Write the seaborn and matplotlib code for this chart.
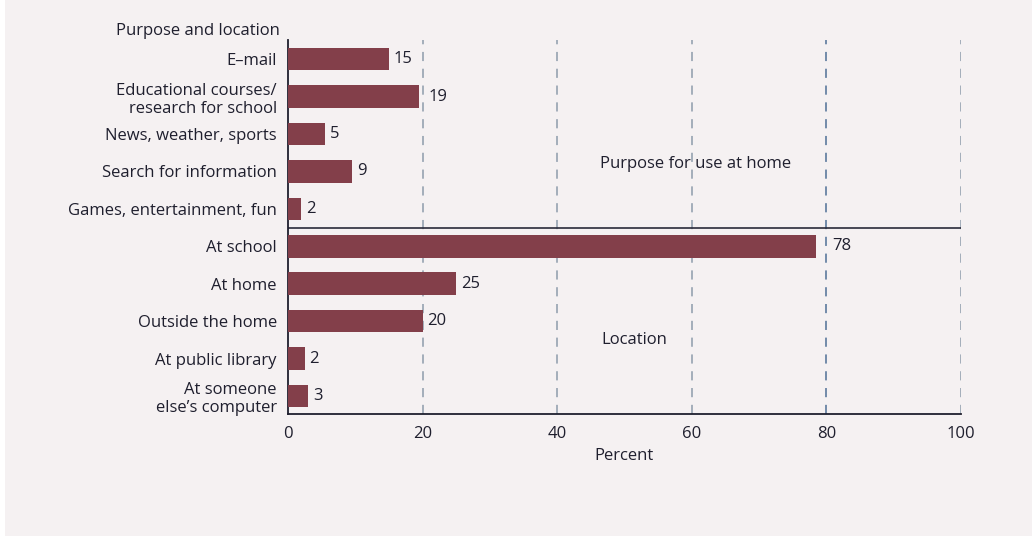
import pandas as pd
import matplotlib.pyplot as plt
import seaborn as sns

# Data
categories = [
    "E\u2013mail",
    "Educational courses/\nresearch for school",
    "News, weather, sports",
    "Search for information",
    "Games, entertainment, fun",
    "At school",
    "At home",
    "Outside the home",
    "At public library",
    "At someone\nelse\u2019s computer",
]
values = [15, 19.5, 5.5, 9.5, 2, 78.5, 25, 20, 2.5, 3]
value_labels = ["15", "19", "5", "9", "2", "78", "25", "20", "2", "3"]
x_ticks = [0, 20, 40, 60, 80, 100]

df = pd.DataFrame({"category": categories, "percent": values})

bg = "#f5f1f2"
bar_color = "#833f4a"
text_color = "#1f1f2e"

sns.set_theme(style="white")
plt.rcParams["font.family"] = ["Open Sans", "DejaVu Sans"]
plt.rcParams["text.color"] = text_color

fig = plt.figure(figsize=(10.32, 5.36), dpi=100)
fig.patch.set_facecolor("white")
# panel background
fig.add_artist(plt.Rectangle((5 / 1032, 0), 1, 1, transform=fig.transFigure,
                             facecolor=bg, edgecolor="none", zorder=-10))
ax = fig.add_axes([288 / 1032, 1 - 414 / 536, (961 - 288) / 1032, (414 - 40) / 536])
ax.set_facecolor(bg)

sns.barplot(data=df, x="percent", y="category", orient="h", color=bar_color,
            saturation=1, width=0.6, linewidth=0, ax=ax, zorder=3)

# dashed grid lines
for t in x_ticks[1:]:
    c = "#4f6f96" if t == 80 else "#8d9bab"
    ax.axvline(t, color=c, ls=(0, (6, 5)), lw=1.1, zorder=1)

# separator between purpose and location
ax.axhline(4.5, xmin=0, xmax=1, color="#2a2a3a", lw=1.2, zorder=2)

for i, (v, lab) in enumerate(zip(values, value_labels)):
    x = v + 0.7
    # keep the label clear of a nearby grid line
    for t in x_ticks[1:]:
        if v < t < v + 2.5:
            x = t + 0.9
    ax.text(x, i, lab, va="center", ha="left", fontsize=12, color=text_color, zorder=4)

ax.text(60.5, 2.8, "Purpose for use at home", ha="center", va="center", fontsize=12)
ax.text(51.5, 7.5, "Location", ha="center", va="center", fontsize=12)

ax.set_xlim(0, 100)
ax.set_ylim(9.48, -0.51)
ax.set_xticks(x_ticks)
ax.set_xlabel("Percent", fontsize=12, labelpad=4, color=text_color)
ax.set_ylabel("")
ax.tick_params(axis="x", direction="in", length=5, color="#6c7f96", labelsize=12,
               labelcolor=text_color, pad=9)
ax.tick_params(axis="y", length=0, labelsize=12, labelcolor=text_color, pad=8)

sns.despine(ax=ax, top=True, right=True)
for s in ["left", "bottom"]:
    ax.spines[s].set_color("#1f1f2e")
    ax.spines[s].set_linewidth(1.3)

fig.text(280 / 1032, 1 - 31 / 536, "Purpose and location", ha="right", va="center",
         fontsize=12, color=text_color)

fig.savefig("out.png", dpi=100, facecolor=fig.get_facecolor())
